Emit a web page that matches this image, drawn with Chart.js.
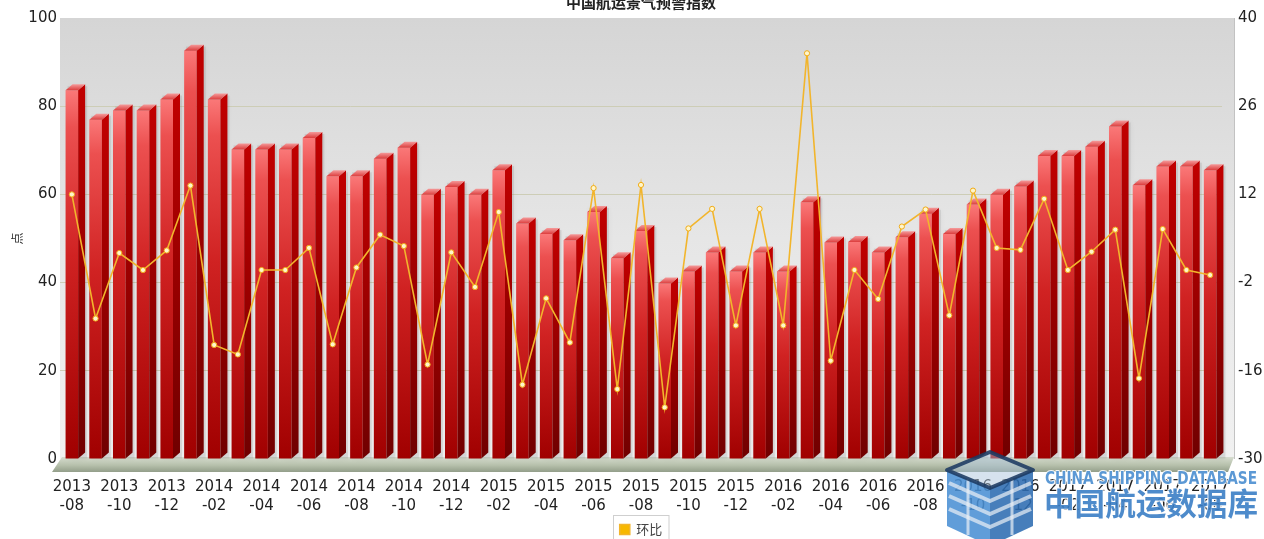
<!DOCTYPE html>
<html>
<head>
<meta charset="utf-8">
<title>中国航运景气预警指数</title>
<script src="https://cdn.jsdelivr.net/npm/chart.js@4.4.1/dist/chart.umd.min.js"></script>
<style>
  html, body { margin: 0; padding: 0; background: #fff; }
  #wrap { width: 1264px; height: 539px; position: relative; }
</style>
</head>
<body>
<div id="wrap"><canvas id="chart" width="1264" height="539"></canvas></div>
<script>
// monthly data, 2013-08 .. 2017-08
let months = [
  "2013-08", "2013-09", "2013-10", "2013-11", "2013-12",
  "2014-01", "2014-02", "2014-03", "2014-04", "2014-05", "2014-06", "2014-07",
  "2014-08", "2014-09", "2014-10", "2014-11", "2014-12",
  "2015-01", "2015-02", "2015-03", "2015-04", "2015-05", "2015-06", "2015-07",
  "2015-08", "2015-09", "2015-10", "2015-11", "2015-12",
  "2016-01", "2016-02", "2016-03", "2016-04", "2016-05", "2016-06", "2016-07",
  "2016-08", "2016-09", "2016-10", "2016-11", "2016-12",
  "2017-01", "2017-02", "2017-03", "2017-04", "2017-05", "2017-06", "2017-07",
  "2017-08"
];

// 预警指数 (left axis, 点)
let indexValues = [
  83.6, 76.9, 79.0, 79.0, 81.5, 92.6, 81.5, 70.2, 70.2, 70.2, 72.8, 64.1,
  64.1, 68.1, 70.6, 59.9, 61.7, 59.9, 65.5, 53.4, 51.0, 49.6, 56.0, 45.5,
  51.7, 39.8, 42.5, 46.8, 42.5, 46.8, 42.5, 58.2, 49.1, 49.2, 46.8, 50.3,
  55.6, 51.0, 57.7, 59.9, 61.8, 68.7, 68.7, 70.8, 75.4, 62.1, 66.3, 66.3,
  65.5
];

// 环比 (right axis)
let momValues = [
  12.0, -7.7, 2.7, 0.0, 3.1, 13.4, -11.9, -13.4, 0.0, 0.0, 3.5, -11.8,
  0.4, 5.6, 3.8, -15.0, 2.8, -2.7, 9.2, -18.2, -4.5, -11.5, 13.0, -18.9,
  13.5, -21.8, 6.6, 9.7, -8.8, 9.7, -8.8, 34.4, -14.4, 0.0, -4.6, 6.9,
  9.6, -7.2, 12.6, 3.5, 3.2, 11.3, 0.0, 2.9, 6.4, -17.2, 6.5, 0.0,
  -0.8
];

let leftTicks = { min: 0, max: 100, step: 20 };
let rightTicks = { min: -30, max: 40, step: 14 };

const DX = 7, DY = 6;   // fake 3d depth of the bars

// plot background, floor and right wall line
const backdrop = {
  id: "backdrop",
  beforeDraw(chart) {
    let ctx = chart.ctx, a = chart.chartArea;
    ctx.save();
    let g = ctx.createLinearGradient(0, a.top, 0, a.bottom);
    g.addColorStop(0, "#d5d5d5");
    g.addColorStop(0.5, "#e6e6e6");
    g.addColorStop(1, "#f1f1f1");
    ctx.fillStyle = g;
    ctx.fillRect(a.left, a.top, a.right - a.left + 12, a.bottom - a.top);

    let f = ctx.createLinearGradient(0, a.bottom - 2, 0, a.bottom + 13);
    f.addColorStop(0, "#d6dccf");
    f.addColorStop(0.55, "#b6c0ab");
    f.addColorStop(1, "#939e8a");
    ctx.fillStyle = f;
    ctx.beginPath();
    ctx.moveTo(a.left + 2, a.bottom - 2);
    ctx.lineTo(a.right + 12, a.bottom - 2);
    ctx.lineTo(a.right + 6, a.bottom + 13);
    ctx.lineTo(a.left - 8, a.bottom + 13);
    ctx.closePath();
    ctx.fill();

    ctx.strokeStyle = "#c2c2c2";
    ctx.lineWidth = 1;
    ctx.beginPath();
    ctx.moveTo(a.right + 12.5, a.top);
    ctx.lineTo(a.right + 12.5, a.bottom);
    ctx.stroke();
    ctx.restore();
  }
};

// side + top faces for the bars, taken from the bar elements
const bars3d = {
  id: "bars3d",
  beforeDatasetDraw(chart, args) {
    if (args.meta.type !== "bar") return;
    let ctx = chart.ctx;
    ctx.save();
    ctx.fillStyle = "rgba(120,120,120,0.18)";
    ctx.shadowColor = "rgba(0,0,0,0.25)";
    ctx.shadowBlur = 5;
    args.meta.data.forEach(bar => {
      let p = bar.getProps(["x", "y", "base", "width"], true);
      ctx.fillRect(p.x - p.width / 2 + 2, p.y - DY + 2, p.width + DX, p.base - p.y + DY - 2);
    });
    ctx.restore();
  },
  afterDatasetDraw(chart, args) {
    if (args.meta.type !== "bar") return;
    let ctx = chart.ctx;
    ctx.save();
    args.meta.data.forEach(bar => {
      let p = bar.getProps(["x", "y", "base", "width"], true);
      let l = p.x - p.width / 2, r = p.x + p.width / 2;

      let s = ctx.createLinearGradient(0, p.y, 0, p.base);
      s.addColorStop(0, "#c00000");
      s.addColorStop(1, "#700000");
      ctx.fillStyle = s;
      ctx.beginPath();
      ctx.moveTo(r, p.y);
      ctx.lineTo(r + DX, p.y - DY);
      ctx.lineTo(r + DX, p.base - DY);
      ctx.lineTo(r, p.base);
      ctx.closePath();
      ctx.fill();

      let t = ctx.createLinearGradient(0, p.y - DY, 0, p.y);
      t.addColorStop(0, "#f59a9a");
      t.addColorStop(1, "#dc3c3c");
      ctx.fillStyle = t;
      ctx.beginPath();
      ctx.moveTo(l, p.y);
      ctx.lineTo(l + DX, p.y - DY);
      ctx.lineTo(r + DX, p.y - DY);
      ctx.lineTo(r, p.y);
      ctx.closePath();
      ctx.fill();
    });
    ctx.restore();
  }
};

// thin frame round the legend item
const legendFrame = {
  id: "legendFrame",
  afterDraw(chart) {
    let hb = chart.legend && chart.legend.legendHitBoxes[0];
    if (!hb) return;
    let ctx = chart.ctx;
    ctx.save();
    ctx.strokeStyle = "#cfcfcf";
    ctx.lineWidth = 1;
    ctx.strokeRect(Math.round(hb.left) - 6.5, Math.round(hb.top) - 7.5, hb.width + 13, hb.height + 24);
    ctx.restore();
  }
};

// "CHINA SHIPPING DATABASE" logo in the lower right corner
const watermark = {
  id: "watermark",
  afterDraw(chart) {
    let ctx = chart.ctx;
    ctx.save();
    ctx.globalAlpha = 0.88;
    ctx.lineJoin = "round";
    // cube
    ctx.fillStyle = "#4a90d4";
    ctx.beginPath();
    ctx.moveTo(947, 470); ctx.lineTo(990, 488); ctx.lineTo(990, 546); ctx.lineTo(947, 526);
    ctx.closePath(); ctx.fill();
    ctx.fillStyle = "#2d6cb2";
    ctx.beginPath();
    ctx.moveTo(990, 488); ctx.lineTo(1033, 470); ctx.lineTo(1033, 526); ctx.lineTo(990, 546);
    ctx.closePath(); ctx.fill();
    ctx.strokeStyle = "rgba(235,240,245,0.8)";
    ctx.lineWidth = 4;
    for (let k = 1; k <= 3; k++) {
      let dy = k * 13;
      ctx.beginPath();
      ctx.moveTo(949, 470 + dy); ctx.lineTo(990, 488 + dy); ctx.lineTo(1031, 470 + dy);
      ctx.stroke();
    }
    ctx.lineWidth = 3;
    ctx.beginPath();
    ctx.moveTo(968, 479); ctx.lineTo(968, 535);
    ctx.moveTo(1012, 479); ctx.lineTo(1012, 535);
    ctx.stroke();
    ctx.fillStyle = "rgba(170,195,220,0.55)";
    ctx.strokeStyle = "#1d3a62";
    ctx.lineWidth = 4;
    ctx.beginPath();
    ctx.moveTo(947, 470); ctx.lineTo(990, 452); ctx.lineTo(1033, 470); ctx.lineTo(990, 488);
    ctx.closePath(); ctx.fill(); ctx.stroke();

    // texts
    ctx.globalAlpha = 0.9;
    ctx.font = "bold 17px 'DejaVu Sans Condensed', 'DejaVu Sans'";
    ctx.textBaseline = "alphabetic";
    ctx.strokeStyle = "#ffffff";
    ctx.lineWidth = 2;
    ctx.strokeText("CHINA SHIPPING DATABASE", 1045, 484, 212);
    ctx.fillStyle = "#4a8ed0";
    ctx.fillText("CHINA SHIPPING DATABASE", 1045, 484, 212);
    ctx.font = "bold 31px 'Noto Sans CJK SC'";
    ctx.strokeText("中国航运数据库", 1044, 515, 214);
    ctx.fillStyle = "#3b7ec5";
    ctx.fillText("中国航运数据库", 1044, 515, 214);
    ctx.restore();
  }
};

function frontColor(context) {
  let chart = context.chart, a = chart.chartArea;
  if (!a || context.type !== "data") return "#d02020";
  let top = chart.scales.y.getPixelForValue(context.raw);
  let g = chart.ctx.createLinearGradient(0, top, 0, a.bottom);
  g.addColorStop(0, "#fa7878");
  g.addColorStop(0.1, "#ec5050");
  g.addColorStop(0.45, "#d02222");
  g.addColorStop(1, "#a00000");
  return g;
}

let tickFont = { family: "'DejaVu Sans', Verdana, sans-serif", size: 15 };

let ctx = document.getElementById("chart").getContext("2d");
window.myChart = new Chart(ctx, {
  type: "bar",
  data: {
    labels: months,
    datasets: [
      {
        type: "bar",
        label: "中国航运景气预警指数",
        data: indexValues,
        yAxisID: "y",
        backgroundColor: frontColor,
        borderWidth: 0,
        barPercentage: 0.53,
        categoryPercentage: 1,
        order: 1
      },
      {
        type: "line",
        label: "环比",
        data: momValues,
        yAxisID: "y1",
        borderColor: "#f2b52c",
        backgroundColor: "#f7b800",
        borderWidth: 1.6,
        pointRadius: 2.6,
        pointBackgroundColor: "#fff6cc",
        pointBorderColor: "#f0ac18",
        pointBorderWidth: 1,
        tension: 0,
        order: 0
      }
    ]
  },
  options: {
    responsive: false,
    animation: false,
    layout: { padding: { left: 0, right: 0, top: 0, bottom: -7 } },
    plugins: {
      title: {
        // the title sits half outside the top edge, as in the original
        display: true,
        text: "中国航运景气预警指数",
        fullSize: false,
        color: "#222",
        font: { family: "'Noto Sans CJK SC'", size: 15, weight: "bold", lineHeight: 0.3 },
        padding: { top: 0, bottom: 13.5 }
      },
      legend: {
        position: "bottom",
        fullSize: false,
        labels: {
          filter: item => item.datasetIndex === 1,
          boxWidth: 10,
          boxHeight: 10,
          padding: 6,
          color: "#444",
          font: { family: "'Noto Sans CJK SC'", size: 13 }
        }
      },
      tooltip: { enabled: false }
    },
    scales: {
      x: {
        offset: true,
        grid: { display: false, drawTicks: false },
        border: { display: false },
        ticks: {
          autoSkip: false,
          maxRotation: 0,
          minRotation: 0,
          padding: 19,
          color: "#222",
          font: { family: tickFont.family, size: 15, lineHeight: 1.25 },
          callback: function(value, i) {
            if (i % 2) return "";
            let parts = months[i].split("-");
            return [parts[0], "-" + parts[1]];
          }
        },
        afterFit: s => { s.height = 58; }
      },
      y: {
        position: "left",
        min: leftTicks.min,
        max: leftTicks.max,
        ticks: { stepSize: leftTicks.step, padding: 3, color: "#222", font: tickFont },
        grid: {
          drawTicks: false,
          color: c => (c.tick && (c.tick.value === 0 || c.tick.value === 100)) ? "rgba(0,0,0,0)" : "#cdcdb6"
        },
        border: { display: false },
        title: {
          display: true,
          text: "点",
          color: "#333",
          font: { family: "'Noto Sans CJK SC'", size: 12 },
          padding: { top: 10, bottom: 0 }
        },
        afterFit: s => { s.width = 60; }
      },
      y1: {
        position: "right",
        min: rightTicks.min,
        max: rightTicks.max,
        ticks: { stepSize: rightTicks.step, padding: 16, color: "#222", font: tickFont },
        grid: { display: false, drawTicks: false },
        border: { display: false },
        // the wide label gap must not push the plot down
        afterFit: s => { s.width = 42; s.paddingTop = 10; s.paddingBottom = 10; }
      }
    }
  },
  plugins: [backdrop, bars3d, legendFrame, watermark]
});
</script>
</body>
</html>
